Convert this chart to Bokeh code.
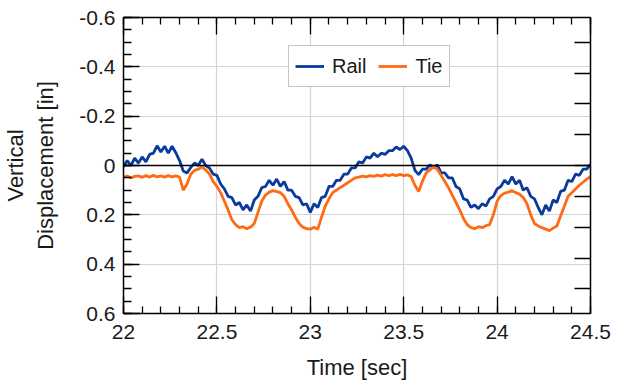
from bokeh.plotting import figure
from bokeh.models import (Range1d, LinearAxis, SingleIntervalTicker, FixedTicker,
                          CustomJSTickFormatter, Span, Legend, LegendItem)
from bokeh.embed import file_html
from bokeh.resources import INLINE

t_start = 22.0
t_step = 0.02
rail = [
    0.005, -0.02, 0.0, -0.03, -0.01, -0.035, -0.015, -0.045, -0.05, -0.08,
    -0.055, -0.078, -0.05, -0.078, -0.052, -0.02, 0.022, 0.03, 0.008, -0.01,
    0.0, -0.025, 0.0, 0.01, 0.035, 0.04, 0.075, 0.095, 0.125, 0.13,
    0.16, 0.15, 0.18, 0.16, 0.185, 0.14, 0.125, 0.09, 0.085, 0.06,
    0.08, 0.055, 0.085, 0.065, 0.10, 0.10, 0.125, 0.13, 0.16, 0.155,
    0.19, 0.155, 0.17, 0.13, 0.125, 0.085, 0.085, 0.06, 0.06, 0.035,
    0.035, 0.01, 0.01, -0.015, -0.01, -0.035, -0.03, -0.05, -0.035, -0.05,
    -0.045, -0.06, -0.06, -0.075, -0.065, -0.078, -0.06, -0.03, 0.02, 0.037,
    0.015, 0.015, -0.002, 0.008, -0.003, 0.03, 0.03, 0.05, 0.05, 0.085,
    0.095, 0.135, 0.14, 0.17, 0.16, 0.175, 0.155, 0.165, 0.135, 0.125,
    0.095, 0.085, 0.06, 0.075, 0.045, 0.075, 0.06, 0.10, 0.09, 0.125,
    0.135, 0.17, 0.20, 0.16, 0.185, 0.14, 0.15, 0.105, 0.10, 0.06,
    0.065, 0.035, 0.04, 0.015, 0.015, -0.005,
]
tie = [
    0.047, 0.043, 0.05, 0.044, 0.042, 0.048, 0.041, 0.047, 0.04, 0.046,
    0.042, 0.047, 0.041, 0.046, 0.042, 0.047, 0.10, 0.075, 0.035, 0.02,
    0.015, 0.006, 0.018, 0.035, 0.065, 0.085, 0.11, 0.145, 0.18, 0.22,
    0.24, 0.252, 0.248, 0.256, 0.25, 0.235, 0.19, 0.145, 0.12, 0.108,
    0.102, 0.106, 0.11, 0.125, 0.155, 0.18, 0.21, 0.235, 0.25, 0.256,
    0.258, 0.25, 0.258, 0.21, 0.165, 0.135, 0.11, 0.10, 0.09, 0.08,
    0.07, 0.06, 0.05, 0.047, 0.043, 0.046, 0.041, 0.044, 0.039, 0.043,
    0.037, 0.041, 0.037, 0.041, 0.036, 0.041, 0.038, 0.045, 0.08, 0.105,
    0.065, 0.03, 0.018, 0.006, 0.015, 0.04, 0.065, 0.09, 0.12, 0.15,
    0.18, 0.215, 0.24, 0.252, 0.256, 0.248, 0.252, 0.244, 0.24, 0.20,
    0.145, 0.122, 0.112, 0.108, 0.102, 0.11, 0.116, 0.13, 0.155, 0.20,
    0.235, 0.245, 0.252, 0.258, 0.264, 0.254, 0.245, 0.205, 0.165, 0.125,
    0.11, 0.095, 0.08, 0.068, 0.055, 0.045,
]
time = [round(t_start + t_step * i, 2) for i in range(len(rail))]
series_names = ["Rail", "Tie"]
series_colors = ["#0a3a9c", "#ff6a14"]
y_ticks = [-0.6, -0.4, -0.2, 0, 0.2, 0.4, 0.6]

FONT = "Liberation Sans"

p = figure(width=623, height=389, output_backend="svg", toolbar_location=None,
           x_range=Range1d(22, 24.5), y_range=Range1d(0.6, -0.6),
           min_border_left=121, min_border_right=33, min_border_top=17,
           min_border_bottom=76, x_axis_location="below", y_axis_location="left")
p.outline_line_color = None
p.background_fill_color = "white"
p.border_fill_color = "white"

fmt = CustomJSTickFormatter(code="return String(Math.round(tick*100)/100);")
blank = CustomJSTickFormatter(code="return '';")

xt = SingleIntervalTicker(interval=0.5, num_minor_ticks=5)
y_minor = [round(-0.6 + 0.05 * k, 2) for k in range(25)]
yt = FixedTicker(ticks=y_ticks, minor_ticks=y_minor)

def style(ax, major=16, minor=8):
    ax.axis_line_color = "black"
    ax.axis_line_width = 1.5
    ax.major_tick_line_color = "black"
    ax.minor_tick_line_color = "black"
    ax.major_tick_line_width = 1.3
    ax.minor_tick_line_width = 1.3
    ax.major_tick_in = major
    ax.major_tick_out = 0
    ax.minor_tick_in = minor
    ax.minor_tick_out = 0
    ax.major_label_text_font = FONT
    ax.major_label_text_font_size = "21px"
    ax.major_label_text_color = "#1a1a1a"
    ax.axis_label_text_font = FONT
    ax.axis_label_text_font_size = "22px"
    ax.axis_label_text_font_style = "normal"
    ax.axis_label_text_color = "#1a1a1a"

xa = p.xaxis[0]
xa.ticker = xt
xa.formatter = fmt
style(xa, 17, 7)
xa.major_label_standoff = 11
xa.axis_label = "Time [sec]"
xa.axis_label_standoff = 13

ya = p.yaxis[0]
ya.ticker = yt
ya.formatter = fmt
style(ya, 16, 8)
ya.major_label_standoff = 8
ya.axis_label = "Vertical\nDisplacement [in]"
ya.axis_label_standoff = 18

top = LinearAxis(ticker=SingleIntervalTicker(interval=0.5, num_minor_ticks=5), formatter=blank)
style(top, 17, 7)
top.major_label_text_font_size = "1px"
top.major_label_standoff = 0
p.add_layout(top, "above")

right = LinearAxis(ticker=FixedTicker(ticks=[-0.5, -0.375, -0.25, -0.125, 0, 0.125, 0.25, 0.375, 0.5],
                                      minor_ticks=[]), formatter=blank)
style(right, 16, 0)
right.major_label_text_font_size = "1px"
right.major_label_standoff = 0
p.add_layout(right, "right")

p.xgrid.ticker = xt
p.ygrid.ticker = FixedTicker(ticks=y_ticks)
p.xgrid.grid_line_color = "#d4d4d4"
p.ygrid.grid_line_color = "#d4d4d4"
p.xgrid.grid_line_width = 1.2
p.ygrid.grid_line_width = 1.2

p.add_layout(Span(location=0, dimension="width", line_color="black", line_width=1.5))

r_rail = p.line(time, rail, line_color=series_colors[0], line_width=2.8)
r_tie = p.line(time, tie, line_color=series_colors[1], line_width=2.8)

legend = Legend(items=[LegendItem(label=series_names[0], renderers=[r_rail]),
                       LegendItem(label=series_names[1], renderers=[r_tie])],
                orientation="horizontal", location=(165, 226))
legend.label_text_font = FONT
legend.label_text_font_size = "20px"
legend.label_text_color = "#1a1a1a"
legend.border_line_color = "#8a8a8a"
legend.border_line_width = 1.2
legend.background_fill_alpha = 1.0
legend.padding = 6
legend.spacing = 12
legend.label_standoff = 8
legend.glyph_width = 29
legend.glyph_height = 28
legend.label_height = 28
legend.margin = 0
p.add_layout(legend, "center")

open("out.html", "w").write(file_html(p, INLINE))
